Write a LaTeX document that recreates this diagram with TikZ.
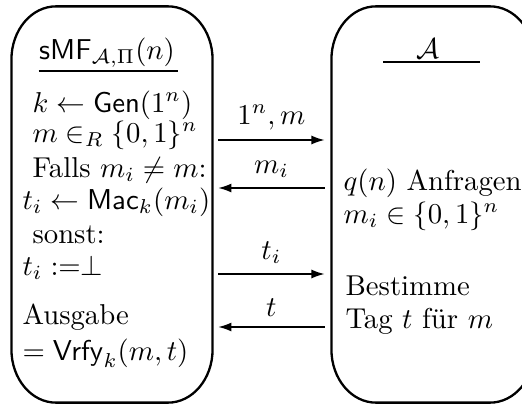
\documentclass[tikz,border=0pt]{standalone}
\usepackage{tikz}
\usetikzlibrary{arrows.meta,positioning}
\tikzset{
  partybox/.style={minimum height=137.5pt, inner sep=0pt},
  frame/.style={thick},
  textline/.style={anchor=base west, inner sep=0pt},
  titleline/.style={anchor=base, inner sep=0pt},
  msg/.style={-{Latex[length=1.6mm,width=1.1mm]}, semithin},
  semithin/.style={line width=0.5pt}
}
% outline of a party, corners a bit taller than wide
\newcommand{\partyframe}[1]{%
  \draw[frame] ([yshift=-18.5pt]#1.north west)
    arc[start angle=180, end angle=90, x radius=15.5pt, y radius=18.5pt]
    -- ([xshift=-15.5pt]#1.north east)
    arc[start angle=90, end angle=0, x radius=15.5pt, y radius=18.5pt]
    -- ([yshift=18.5pt]#1.south east)
    arc[start angle=0, end angle=-90, x radius=15.5pt, y radius=18.5pt]
    -- ([xshift=15.5pt]#1.south west)
    arc[start angle=270, end angle=180, x radius=15.5pt, y radius=18.5pt]
    -- cycle;}

\begin{document}
\begin{tikzpicture}[x=0.348pt, y=-0.348pt]
    \useasboundingbox (0,0) rectangle (522,404);

    % the two parties
    \node[partybox, minimum width=69.6pt] (game) at (112,204.5) {};
    \node[partybox, minimum width=70.3pt] (adv) at (433,204.5) {};
    \partyframe{game}
    \partyframe{adv}

    % game side
    \node[titleline] (gtitle) at (107,59) {$\mathsf{sMF}_{\mathcal{A},\Pi}(n)$};
    \draw[semithin] ([yshift=-4.2pt]gtitle.base west) -- ([xshift=1pt,yshift=-4.2pt]gtitle.base east);
    \node[textline] (gen) at (32,112) {$k \leftarrow \mathsf{Gen}(1^n)$};
    \node[textline] (pick) at (32,142) {$m \in_R \{0,1\}^n$};
    \node[textline] (ifnot) at (32,177) {Falls $m_i \neq m$:};
    \node[textline] (mac) at (22,209) {$t_i \leftarrow \mathsf{Mac}_k(m_i)$};
    \node[textline] (else) at (32,243) {sonst:};
    \node[textline] (bot) at (22,275) {$t_i :=\perp$};
    \node[textline] (out) at (22,324) {Ausgabe};
    \node[textline] (vrfy) at (22,360) {$= \mathsf{Vrfy}_k(m,t)$};

    % adversary side
    \node[titleline] (atitle) at (428,58) {$\mathcal{A}$};
    \draw[semithin] (383,62) -- (480,62);
    \node[textline] (query) at (343,190) {$q(n)$ Anfragen};
    \node[textline] (qset) at (343,223) {$m_i \in \{0,1\}^n$};
    \node[textline] (guess) at (345,295) {Bestimme};
    \node[textline] (tag) at (345,328) {Tag $t$ für $m$};

    % messages
    \coordinate (r1) at (0,140);
    \coordinate (r2) at (0,188);
    \coordinate (r3) at (0,274);
    \coordinate (r4) at (0,327);
    \draw[msg] ([xshift=2pt]game.east |- r1) -- node[above]{$1^n, m$} ([xshift=-2.4pt]adv.west |- r1);
    \draw[msg] ([xshift=-2.4pt]adv.west |- r2) -- node[above]{$m_i$} ([xshift=2pt]game.east |- r2);
    \draw[msg] ([xshift=2pt]game.east |- r3) -- node[above]{$t_i$} ([xshift=-2.4pt]adv.west |- r3);
    \draw[msg] ([xshift=-2.4pt]adv.west |- r4) -- node[above]{$t$} ([xshift=2pt]game.east |- r4);
\end{tikzpicture}
\end{document}
